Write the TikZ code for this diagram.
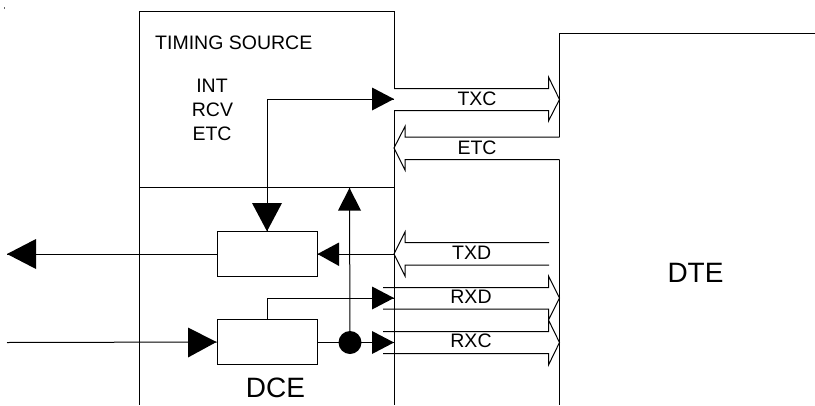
\documentclass[tikz,border=0pt]{standalone}
\usepackage{fontspec}
\setmainfont{Liberation Sans}
\tikzset{
  ln/.style={line width=1pt,black},
  solidhead/.style={fill=black,draw=none},
  lbl/.style={inner sep=0pt,font=\fontsize{19.5}{23}\selectfont},
  big/.style={inner sep=0pt,font=\fontsize{28}{32}\selectfont},
  blk/.style={draw=black,line width=1pt,fill=white,minimum width=100pt,minimum height=44.3pt,inner sep=0pt},
  dot/.style={circle,fill=black,minimum size=23pt,inner sep=0pt}
}
\begin{document}
\begin{tikzpicture}[x=1pt,y=-1pt]
\useasboundingbox (0,0) rectangle (815,405);
% speck
\fill[black!60] (3.6,7) rectangle (5.4,9);
% outer DCE
\draw[ln] (394,88.5) -- (394,11) -- (139.5,11) -- (139.5,405);
\draw[ln] (394,110.5) -- (394,405);
\draw[ln] (139.5,187.5) -- (394,187.5);
% DTE
\draw[ln] (815,33) -- (559.5,33) -- (559.5,137);
\draw[ln] (559.5,159.5) -- (559.5,405);
% hollow bus arrows
\draw[ln] (394,88.5) -- (548.5,88.5) -- (548.5,77) -- (559.5,99.5) -- (548.5,121) -- (548.5,110.5) -- (394,110.5);
\draw[ln] (559.5,137) -- (405,137) -- (405,126.5) -- (394,148) -- (405,170) -- (405,159.5) -- (559.5,159.5);
\draw[ln] (549,242.7) -- (405,242.7) -- (405,232) -- (394,254) -- (405,276) -- (405,265) -- (549,265);
\draw[ln] (383,287.7) -- (548.5,287.7) -- (548.5,276) -- (559.5,298) -- (548.5,320) -- (548.5,309) -- (383,309);
\draw[ln] (383,331.5) -- (548.5,331.5) -- (548.5,320) -- (559.5,342.5) -- (548.5,365) -- (548.5,353.5) -- (383,353.5);
% blocks
\node[blk] (b1) at (267,254) {};
\node[blk] (b2) at (267,342) {};
\node[dot] (d) at (350,342.5) {};
\coordinate (outl) at (7,254);
\coordinate (inl) at (7,342.5);
\coordinate (tip1) at (394,99);
\coordinate (tip2) at (394,254);
\coordinate (tip3) at (394,298);
\coordinate (tip4) at (394,342.5);
\coordinate (tip5) at (349.5,188);
% connectors
\draw[ln] (b1.north) -- (267,99) -- (tip1);
\draw[ln] (tip2) -- (b1.east);
\draw[ln] (b1.west) -- (outl);
\draw[ln] (inl) -- (b2.west);
\draw[ln] (b2.north) -- (267,298) -- (tip3);
\draw[ln] (b2.east |- d) -- (tip4);
\draw[ln] (d) -- (tip5);
% solid heads
\fill[solidhead] (tip1) -- (372,87.5) -- (372,110.5) -- cycle;
\fill[solidhead] (b1.north) -- (252,203) -- (282,203) -- cycle;
\fill[solidhead] (b1.east) -- (339,242.5) -- (339,266) -- cycle;
\fill[solidhead] (outl) -- (36,239) -- (36,269) -- cycle;
\fill[solidhead] (b2.west) -- (188,327.5) -- (188,357.5) -- cycle;
\fill[solidhead] (tip3) -- (372,286.5) -- (372,309.5) -- cycle;
\fill[solidhead] (tip4) -- (372,331) -- (372,354) -- cycle;
\fill[solidhead] (tip5) -- (338,210.5) -- (361,210.5) -- cycle;
% text
\node[lbl,anchor=west] (ts) at (155,43) {TIMING SOURCE};
\node[lbl] (t1) at (212,85.5) {INT};
\node[lbl] (t2) at (212.5,110) {RCV};
\node[lbl] (t3) at (212,133.5) {ETC};
\node[lbl] (txc) at (477,99) {TXC};
\node[lbl] (etc) at (477,148) {ETC};
\node[lbl] (txd) at (471.7,253) {TXD};
\node[lbl] (rxd) at (471,297) {RXD};
\node[lbl] (rxc) at (471,341) {RXC};
\node[big] (dce) at (275.5,387.5) {DCE};
\node[big] (dte) at (695.5,272.5) {DTE};
\end{tikzpicture}
\end{document}
